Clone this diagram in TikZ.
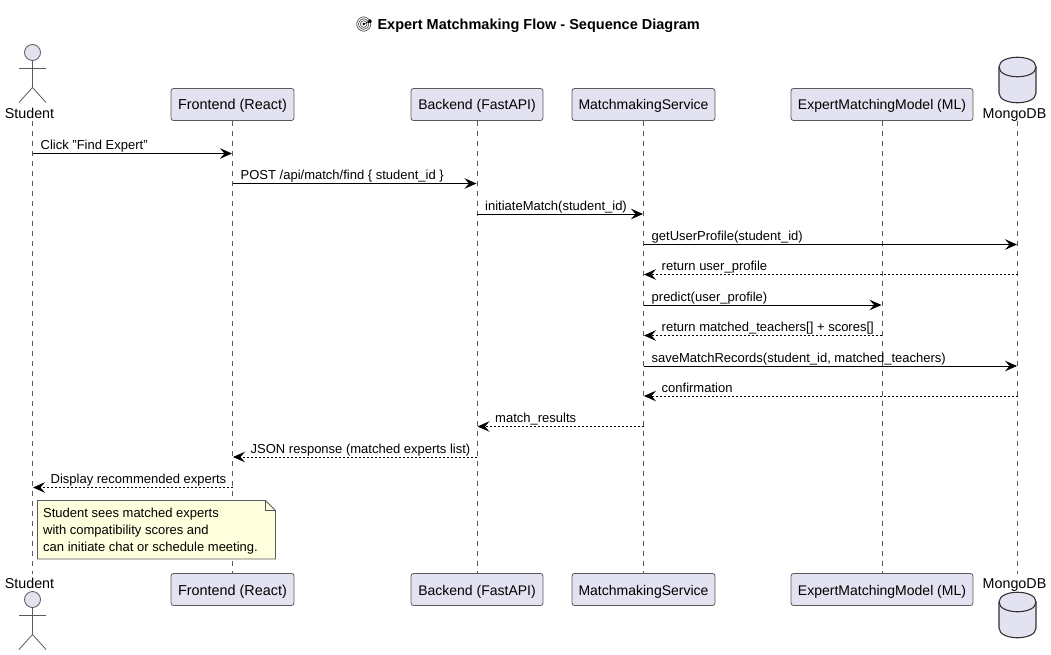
\documentclass[tikz,border=0pt]{standalone}
\usepackage{xcolor}
\usepackage{fontspec}
\setmainfont{Liberation Sans}
\newfontfamily\emojifont{Noto Emoji}
\usetikzlibrary{arrows.meta}
\definecolor{partfill}{HTML}{E2E2F0}
\definecolor{notefill}{HTML}{FEFFDD}
\definecolor{edgegray}{HTML}{5A5A5A}
\tikzset{
	part/.style={draw=edgegray,fill=partfill,line width=0.8pt,rounded corners=2.5pt,minimum height=32pt,inner xsep=0pt,inner ysep=0pt,text height=11pt,text depth=0pt,font=\fontsize{14}{16}\selectfont},
	plainlabel/.style={inner sep=0pt,anchor=base,font=\fontsize{14.3}{16}\selectfont},
	figure/.style={draw=edgegray,line width=0.8pt},
	life/.style={draw=edgegray,line width=0.6pt,dash pattern=on 5pt off 5pt},
	msg/.style={black,line width=0.9pt,-{Stealth[length=12pt,width=10.5pt,inset=4.5pt]},shorten >=0.5pt},
	ret/.style={msg,dash pattern=on 2pt off 2pt},
	msglabel/.style={inner sep=0pt,anchor=base west,font=\fontsize{13}{15}\selectfont}
}
\begin{document}
\begin{tikzpicture}[x=1pt,y=-1pt]
		\useasboundingbox (0,0) rectangle (1051,655);
		\node [inner sep=0pt,anchor=base] (title) at (527.5,30) {\fontsize{14.5}{16}\selectfont{\emojifont\symbol{"1F3AF}} \bfseries Expert Matchmaking Flow - Sequence Diagram};
		% participants, head and foot
		\node [part,minimum width=123pt,font=\fontsize{14.4}{16}\selectfont] (frontend) at (232.5,104.5) {Frontend (React)};
		\node [part,minimum width=132pt] (backend) at (477,104.5) {Backend (FastAPI)};
		\node [part,minimum width=143pt] (service) at (643.5,104.5) {MatchmakingService};
		\node [part,minimum width=182pt] (model) at (882,104.5) {ExpertMatchingModel (ML)};
		\node [part,minimum width=123pt,font=\fontsize{14.4}{16}\selectfont] (frontendfoot) at (232.5,589.5) {Frontend (React)};
		\node [part,minimum width=132pt] (backendfoot) at (477,589.5) {Backend (FastAPI)};
		\node [part,minimum width=143pt] (servicefoot) at (643.5,589.5) {MatchmakingService};
		\node [part,minimum width=182pt] (modelfoot) at (882,589.5) {ExpertMatchingModel (ML)};
		\node [plainlabel] (studentname) at (29.5,119) {Student};
		\node [plainlabel] (studentnamefoot) at (29.5,588) {Student};
		\node [plainlabel] (mongoname) at (1014.5,119) {MongoDB};
		\node [plainlabel] (mongonamefoot) at (1014.5,588) {MongoDB};
		\coordinate (student) at (32.5,121);
		\coordinate (studentfoot) at (32.5,574);
		\coordinate (mongo) at (1017.5,121);
		\coordinate (mongofoot) at (1017.5,574);
		% actors
		\foreach \t in {44.5,591.5} {
			\draw [figure,fill=partfill] (32.5,\t+8) circle (8);
			\draw [figure] (32.5,\t+16) -- (32.5,\t+43) (19,\t+24) -- (46,\t+24)
				(19,\t+58) -- (32.5,\t+43) -- (46,\t+58);
		}
		% databases
		\foreach \t in {57,592} {
			\draw [figure,fill=partfill,line width=1.1pt,draw=black!80] (999,\t+10) .. controls (999,\t-3) and (1036,\t-3) .. (1036,\t+10)
				-- (1036,\t+36) .. controls (1036,\t+49) and (999,\t+49) .. (999,\t+36) -- cycle;
			\draw [line width=1.1pt,black!80] (999,\t+10) .. controls (999,\t+23) and (1036,\t+23) .. (1036,\t+10);
		}
		% lifelines
		\foreach \a/\b in {student/studentfoot,frontend/frontendfoot,backend/backendfoot,service/servicefoot,model/modelfoot,mongo/mongofoot}
			\draw [life] (\a) -- (\b);
		% calls
		\foreach \a/\b/\y/\txt in {
			student/frontend/153.5/{Click "Find Expert"},
			frontend/backend/183.5/{POST /api/match/find \{ student\_id \}},
			backend/service/214/{initiateMatch(student\_id)},
			service/mongo/244.5/{getUserProfile(student\_id)},
			service/model/305/{predict(user\_profile)},
			service/mongo/366/{saveMatchRecords(student\_id, matched\_teachers)}} {
			\draw [msg] (\a |- 0,\y) -- (\b |- 0,\y);
			\node [msglabel] (call\y) at ([xshift=8pt]\a |- 0,\y-4) {\txt};
		}
		% returns
		\foreach \a/\b/\y/\txt in {
			mongo/service/274.5/{return user\_profile},
			model/service/335.5/{return matched\_teachers[] + scores[]},
			mongo/service/396/{confirmation},
			service/backend/426.5/{match\_results},
			backend/frontend/457/{JSON response (matched experts list)},
			frontend/student/487.5/{Display recommended experts}} {
			\draw [ret] (\a |- 0,\y) -- (\b |- 0,\y);
			\node [msglabel] (back\y) at ([xshift=18pt]\b |- 0,\y-4) {\txt};
		}
		% note
		\draw [draw=edgegray,fill=notefill,line width=0.8pt] (37.5,500.5) -- (265.5,500.5) -- (275.5,510.5) -- (275.5,559) -- (37.5,559) -- cycle;
		\draw [draw=edgegray,line width=0.8pt] (265.5,500.5) -- (265.5,510.5) -- (275.5,510.5);
		\node [inner sep=0pt,anchor=north west,align=left,font=\fontsize{13}{16.7}\selectfont] (seen) at (43,508) {Student sees matched experts\\with compatibility scores and\\can initiate chat or schedule meeting.};
	\end{tikzpicture}
\end{document}
